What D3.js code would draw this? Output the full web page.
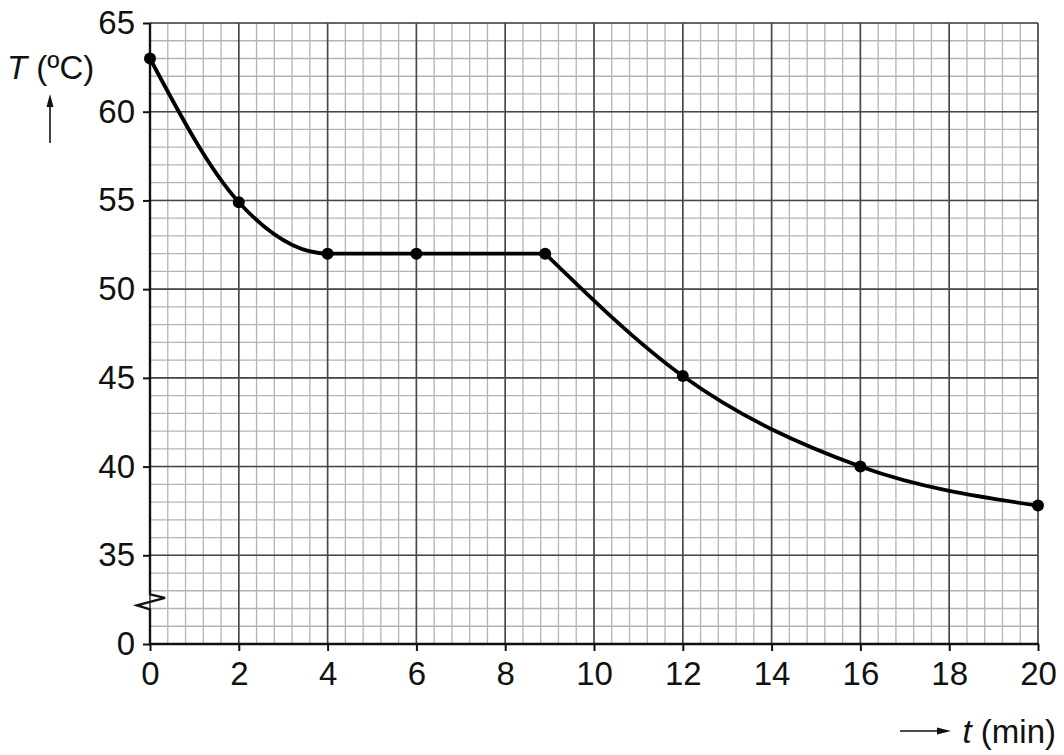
<!DOCTYPE html>
<html>
<head>
<meta charset="utf-8">
<script src="https://cdn.jsdelivr.net/npm/d3@7"></script>
<style>
  html, body { margin: 0; padding: 0; background: #fff; }
  svg { display: block; }
  text { font-family: "Liberation Sans", Arial, sans-serif; fill: #111; }
</style>
</head>
<body>
<svg id="chart" width="1064" height="755"></svg>
<script>
// Data
const times = [0, 2, 4, 6, 8.9, 12, 16, 20];
const temps = [63, 54.9, 52, 52, 52, 45.1, 40, 37.8];
// the cooling curve is drawn as two smooth pieces joined at the kink (index 4)
const kinkIndex = 4;
const xTickValues = [0, 2, 4, 6, 8, 10, 12, 14, 16, 18, 20];
const yTickValues = [30, 35, 40, 45, 50, 55, 60, 65];
const yTickLabels = ["0", "35", "40", "45", "50", "55", "60", "65"];

const svg = d3.select("#chart");
const margin = { left: 150, right: 26, top: 23, bottom: 111 };
const W = 1064, H = 755;

const x = d3.scaleLinear().domain([0, 20]).range([margin.left, W - margin.right]);
const y = d3.scaleLinear().domain([30, 65]).range([H - margin.bottom, margin.top]);

// Grid: minor lines every 0.4 min / 1 degree, major every 2 min / 5 degrees
const g = svg.append("g");
const minorX = d3.range(0, 20.001, 0.4);
const minorY = d3.range(30, 65.001, 1);
g.selectAll("line.mx").data(minorX).join("line")
  .attr("x1", d => x(d)).attr("x2", d => x(d))
  .attr("y1", y(30)).attr("y2", y(65))
  .attr("stroke", "#b4b4b4").attr("stroke-width", 1.3);
g.selectAll("line.my").data(minorY).join("line")
  .attr("y1", d => y(d)).attr("y2", d => y(d))
  .attr("x1", x(0)).attr("x2", x(20))
  .attr("stroke", "#b4b4b4").attr("stroke-width", 1.3);
g.selectAll("line.Mx").data(xTickValues).join("line")
  .attr("x1", d => x(d)).attr("x2", d => x(d))
  .attr("y1", y(30)).attr("y2", y(65))
  .attr("stroke", "#474747").attr("stroke-width", 1.6);
g.selectAll("line.My").data(yTickValues.slice(1)).join("line")
  .attr("y1", d => y(d)).attr("y2", d => y(d))
  .attr("x1", x(0)).attr("x2", x(20))
  .attr("stroke", "#474747").attr("stroke-width", 1.6);

// Axes
const xAxis = d3.axisBottom(x).tickValues(xTickValues).tickSize(7).tickPadding(11)
  .tickFormat(d3.format("d"));
const yAxis = d3.axisLeft(y).tickValues(yTickValues).tickSize(7).tickPadding(8)
  .tickFormat((d, i) => yTickLabels[i]);

const gx = svg.append("g").attr("transform", `translate(0,${y(30)})`).call(xAxis);
const gy = svg.append("g").attr("transform", `translate(${x(0)},0)`).call(yAxis);
[gx, gy].forEach(a => {
  a.select(".domain").remove();
  a.selectAll(".tick line").attr("stroke", "#111").attr("stroke-width", 2);
  a.selectAll(".tick text").attr("font-size", 33).attr("fill", "#111")
    .style("font-family", "'Liberation Sans', Arial, sans-serif");
});

// axis lines
svg.append("line").attr("x1", x(0) - 1).attr("x2", x(20) + 1)
  .attr("y1", y(30)).attr("y2", y(30)).attr("stroke", "#111").attr("stroke-width", 2.4);
const bTop = y(32.8), bBot = y(31.95);
svg.append("path")
  .attr("d", `M${x(0)},${y(65)} L${x(0)},${bTop} L${x(0) + 15},${bTop + 3.5} L${x(0) - 13},${bBot - 4} L${x(0)},${bBot} L${x(0)},${y(30) + 1}`)
  .attr("fill", "none").attr("stroke", "#111").attr("stroke-width", 2.4)
  .attr("stroke-linejoin", "miter");

// Curve
const pts = times.map((t, i) => [t, temps[i]]);
const line = d3.line().x(d => x(d[0])).y(d => y(d[1])).curve(d3.curveMonotoneX);
const seg1 = pts.slice(0, kinkIndex + 1);
const seg2 = pts.slice(kinkIndex);
[seg1, seg2].forEach(s => {
  svg.append("path").attr("d", line(s)).attr("fill", "none")
    .attr("stroke", "#000").attr("stroke-width", 3.8).attr("stroke-linejoin", "round");
});
svg.selectAll("circle.pt").data(pts).join("circle")
  .attr("cx", d => x(d[0])).attr("cy", d => y(d[1])).attr("r", 6).attr("fill", "#000");

// Axis titles
const yt = svg.append("text").attr("x", 7).attr("y", 79).attr("font-size", 33);
yt.append("tspan").attr("font-style", "italic").text("T");
yt.append("tspan").text(" (ºC)");
svg.append("line").attr("x1", 50).attr("x2", 50).attr("y1", 143).attr("y2", 100)
  .attr("stroke", "#111").attr("stroke-width", 1.6);
svg.append("path").attr("d", "M50,94 L46.5,107 L53.5,107 Z").attr("fill", "#111");

const xt = svg.append("text").attr("x", 1056).attr("y", 743).attr("font-size", 33)
  .attr("text-anchor", "end");
xt.append("tspan").attr("font-style", "italic").text("t");
xt.append("tspan").text(" (min)");
svg.append("line").attr("x1", 900).attr("x2", 940).attr("y1", 731).attr("y2", 731)
  .attr("stroke", "#111").attr("stroke-width", 1.6);
svg.append("path").attr("d", "M951,731 L937,727.5 L937,734.5 Z").attr("fill", "#111");
</script>
</body>
</html>
